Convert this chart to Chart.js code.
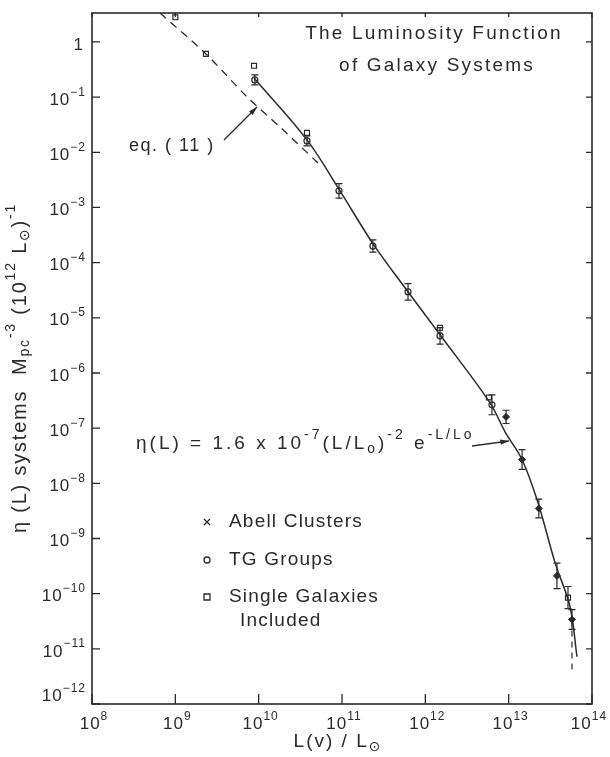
<!DOCTYPE html>
<html>
<head>
<meta charset="utf-8">
<script src="https://cdn.jsdelivr.net/npm/chart.js@4.4.0/dist/chart.umd.min.js"></script>
<style>
  html, body { margin: 0; background: #fff; }
  #wrap { width: 610px; height: 757px; }
</style>
</head>
<body>
<div id="wrap"><canvas id="grafico" width="610" height="757"></canvas></div>
<script>
// ---- dados (L em L_sol, eta em sistemas Mpc^-3 (10^12 L_sol)^-1)
const abellL = [9.3e12, 1.45e13, 2.3e13, 3.8e13, 5.75e13];
const abellEta = [1.6e-7, 2.7e-8, 3.5e-9, 2.1e-10, 3.4e-11];
const abellErr = [0.12, 0.18, 0.17, 0.23, 0.18]; // em decadas
const abellOpenDown = [0, 0, 0, 0, 0.95];

const tgL = [9.0e9, 3.8e10, 9.2e10, 2.35e11, 6.2e11, 1.5e12, 6.3e12];
const tgEta = [0.205, 0.0161, 2.0e-3, 2.0e-4, 2.96e-5, 4.7e-6, 2.65e-7];
const tgErr = [0.09, 0.09, 0.13, 0.11, 0.15, 0.15, 0.18];

const singleL = [1.0e9, 2.33e9, 8.8e9, 3.8e10, 1.5e12, 5.8e12, 5.15e13];
const singleEta = [2.8, 0.61, 0.37, 0.0225, 6.6e-6, 3.6e-7, 8.5e-11];
const singleErr = [0, 0, 0, 0, 0, 0, 0.2];

const fitL = [8.79e9, 3.8e10, 9.46e10, 2.36e11, 6.19e11, 1.5e12, 5.97e12, 9.04e12, 1.45e13, 2.25e13, 3.6e13, 5.45e13, 6.6e13];
const fitEta = [0.223, 0.0168, 2.0e-3, 2.19e-4, 2.96e-5, 4.92e-6, 2.88e-7, 8.6e-8, 2.68e-8, 4.46e-9, 3.65e-10, 5.8e-11, 7.2e-12];

const eq11L = [6.55e8, 2.33e9, 7.24e9, 1.8e10, 5.15e10];
const eq11Eta = [3.35, 0.607, 0.101, 0.0288, 6.4e-3];

const xExp = [8, 9, 10, 11, 12, 13, 14];
const yExp = [0, -1, -2, -3, -4, -5, -6, -7, -8, -9, -10, -11, -12];

const tinta = "#2a2a2a";
const fonte = "'Liberation Sans', 'DejaVu Sans', sans-serif";

function pares(xs, ys) {
  return xs.map((x, i) => ({ x: x, y: ys[i] }));
}

// texto com partes em sobrescrito / subscrito
function textoRico(ctx, partes, x, y, tam, alinhar) {
  const medir = (p) => {
    ctx.font = (p.s ? Math.round(tam * 0.72) : tam) + "px " + fonte;
    return ctx.measureText(p.t).width;
  };
  let total = 0;
  partes.forEach((p) => (total += medir(p)));
  let cx = alinhar === "center" ? x - total / 2 : alinhar === "right" ? x - total : x;
  partes.forEach((p) => {
    const w = medir(p);
    let dy = 0;
    if (p.s === "sup") dy = -tam * 0.45;
    if (p.s === "sub") dy = tam * 0.25;
    ctx.fillText(p.t, cx, y + dy);
    cx += w;
  });
}

const eixosPlugin = {
  id: "eixos",
  afterDraw(chart) {
    const ctx = chart.ctx;
    const a = chart.chartArea;
    const sx = chart.scales.x;
    const sy = chart.scales.y;
    ctx.save();
    ctx.strokeStyle = tinta;
    ctx.fillStyle = tinta;
    ctx.lineWidth = 1.6;
    ctx.strokeRect(a.left, a.top, a.right - a.left, a.bottom - a.top);

    ctx.lineWidth = 1.3;
    ctx.textBaseline = "middle";
    ctx.letterSpacing = "1px";
    yExp.forEach((e) => {
      const py = sy.getPixelForValue(Math.pow(10, e));
      ctx.beginPath();
      ctx.moveTo(a.left, py);
      ctx.lineTo(a.left + 8, py);
      ctx.moveTo(a.right, py);
      ctx.lineTo(a.right - 6, py);
      ctx.stroke();
      let ly = py + 3;
      if (e === -12) ly = py - 8;
      if (e === 0) {
        textoRico(ctx, [{ t: "1" }], a.left - 8, ly, 17, "right");
      } else {
        textoRico(ctx, [{ t: "10" }, { t: "−" + -e, s: "sup" }], a.left - 6, ly, 17, "right");
      }
    });
    xExp.forEach((e) => {
      const px = sx.getPixelForValue(Math.pow(10, e));
      ctx.beginPath();
      ctx.moveTo(px, a.bottom);
      ctx.lineTo(px, a.bottom - 10);
      ctx.moveTo(px, a.top);
      ctx.lineTo(px, a.top + 4);
      ctx.stroke();
      const dx = e === 14 ? -3 : 2;
      textoRico(ctx, [{ t: "10" }, { t: String(e), s: "sup" }], px + dx, a.bottom + 20, 17, "center");
    });

    // titulos dos eixos
    ctx.letterSpacing = "2px";
    textoRico(ctx, [{ t: "L(v) / L" }, { t: "⊙", s: "sub" }], 338, 742, 19, "center");
    ctx.save();
    ctx.translate(20, 368);
    ctx.rotate(-Math.PI / 2);
    ctx.letterSpacing = "1.8px";
    textoRico(ctx, [
      { t: "η (L) systems  M" }, { t: "pc", s: "sub" }, { t: "-3", s: "sup" },
      { t: " (10" }, { t: "12", s: "sup" }, { t: " L" }, { t: "⊙", s: "sub" },
      { t: ")" }, { t: "-1", s: "sup" }
    ], 0, 0, 20, "center");
    ctx.restore();

    // titulo do grafico
    ctx.letterSpacing = "2.2px";
    textoRico(ctx, [{ t: "The Luminosity Function" }], 434, 34, 19, "center");
    textoRico(ctx, [{ t: "of Galaxy Systems" }], 437, 66, 19, "center");

    // formula e seta
    ctx.letterSpacing = "3px";
    textoRico(ctx, [
      { t: "η(L) = 1.6 x 10" }, { t: "-7", s: "sup" }, { t: "(L/L" }, { t: "o", s: "sub" },
      { t: ")" }, { t: "-2", s: "sup" }, { t: " e" }, { t: "-L/L", s: "sup" }, { t: "o", s: "sup" }
    ], 136, 444, 19, "left");
    seta(ctx, 472, 446, 509, 441);

    ctx.letterSpacing = "1.5px";
    textoRico(ctx, [{ t: "eq. ( 11 )" }], 129, 146, 18, "left");
    seta(ctx, 224, 140, 257, 107);

    // legenda
    ctx.letterSpacing = "1.2px";
    const leg = [
      ["Abell Clusters", 522, "x"],
      ["TG Groups", 560, "o"],
      ["Single Galaxies", 597, "s"]
    ];
    leg.forEach(([txt, ly, sym]) => {
      simbolo(ctx, sym, 207, ly);
      textoRico(ctx, [{ t: txt }], 229, ly, 19, "left");
    });
    textoRico(ctx, [{ t: "Included" }], 240, 621, 19, "left");
    ctx.restore();
  }
};

function seta(ctx, x1, y1, x2, y2) {
  ctx.save();
  ctx.lineWidth = 1.3;
  ctx.beginPath();
  ctx.moveTo(x1, y1);
  ctx.lineTo(x2, y2);
  ctx.stroke();
  const ang = Math.atan2(y2 - y1, x2 - x1);
  ctx.beginPath();
  ctx.moveTo(x2, y2);
  ctx.lineTo(x2 - 9 * Math.cos(ang - 0.3), y2 - 9 * Math.sin(ang - 0.3));
  ctx.lineTo(x2 - 9 * Math.cos(ang + 0.3), y2 - 9 * Math.sin(ang + 0.3));
  ctx.closePath();
  ctx.fill();
  ctx.restore();
}

function simbolo(ctx, sym, x, y) {
  ctx.save();
  ctx.lineWidth = 1.3;
  ctx.beginPath();
  if (sym === "x") {
    ctx.moveTo(x - 3, y - 3); ctx.lineTo(x + 3, y + 3);
    ctx.moveTo(x + 3, y - 3); ctx.lineTo(x - 3, y + 3);
  } else if (sym === "o") {
    ctx.arc(x, y, 3, 0, Math.PI * 2);
  } else {
    ctx.rect(x - 3, y - 3, 6, 6);
  }
  ctx.stroke();
  ctx.restore();
}

// barras de erro desenhadas a partir das escalas
const errosPlugin = {
  id: "erros",
  afterDatasetsDraw(chart) {
    const ctx = chart.ctx;
    const sx = chart.scales.x;
    const sy = chart.scales.y;
    ctx.save();
    ctx.strokeStyle = tinta;
    ctx.lineWidth = 1.2;
    chart.data.datasets.forEach((ds) => {
      if (!ds.erro) return;
      ds.data.forEach((p, i) => {
        const e = ds.erro[i];
        const px = sx.getPixelForValue(p.x);
        if (e > 0) {
          const yHi = sy.getPixelForValue(p.y * Math.pow(10, e));
          const yLo = sy.getPixelForValue(p.y / Math.pow(10, e));
          ctx.beginPath();
          ctx.moveTo(px, yHi); ctx.lineTo(px, yLo);
          ctx.moveTo(px - 3.5, yHi); ctx.lineTo(px + 3.5, yHi);
          ctx.moveTo(px - 3.5, yLo); ctx.lineTo(px + 3.5, yLo);
          ctx.stroke();
        }
        if (ds.aberto && ds.aberto[i] > 0) {
          const yLo = sy.getPixelForValue(p.y / Math.pow(10, ds.aberto[i]));
          ctx.save();
          ctx.setLineDash([6, 5]);
          ctx.beginPath();
          ctx.moveTo(px, sy.getPixelForValue(p.y)); ctx.lineTo(px, yLo);
          ctx.stroke();
          ctx.restore();
        }
      });
    });
    ctx.restore();
  }
};

const ctx = document.getElementById("grafico").getContext("2d");
const grafico = new Chart(ctx, {
  type: "scatter",
  data: {
    datasets: [
      {
        label: "eq. (11)",
        data: pares(eq11L, eq11Eta),
        showLine: true,
        borderColor: tinta,
        borderWidth: 1.3,
        borderDash: [8, 6],
        pointRadius: 0,
        tension: 0.3
      },
      {
        label: "fit",
        data: pares(fitL, fitEta),
        showLine: true,
        borderColor: tinta,
        borderWidth: 1.5,
        pointRadius: 0,
        tension: 0.35
      },
      {
        label: "Abell Clusters",
        data: pares(abellL, abellEta),
        erro: abellErr,
        aberto: abellOpenDown,
        pointStyle: "rectRot",
        pointRadius: 3.5,
        backgroundColor: tinta,
        borderColor: tinta,
        borderWidth: 1
      },
      {
        label: "TG Groups",
        data: pares(tgL, tgEta),
        erro: tgErr,
        pointStyle: "circle",
        pointRadius: 3,
        backgroundColor: "#fff",
        borderColor: tinta,
        borderWidth: 1.2
      },
      {
        label: "Single Galaxies",
        data: pares(singleL, singleEta),
        erro: singleErr,
        pointStyle: "rect",
        pointRadius: 3.5,
        backgroundColor: "#fff",
        borderColor: tinta,
        borderWidth: 1.2
      }
    ]
  },
  options: {
    responsive: false,
    animation: false,
    clip: false,
    layout: { padding: { left: 92, right: 18, top: 13, bottom: 53 } },
    scales: {
      x: { type: "logarithmic", min: 1e8, max: 1e14, display: false },
      y: { type: "logarithmic", min: 1e-12, max: Math.pow(10, 0.525), display: false }
    },
    plugins: {
      legend: { display: false },
      tooltip: { enabled: false }
    }
  },
  plugins: [errosPlugin, eixosPlugin]
});
</script>
</body>
</html>
